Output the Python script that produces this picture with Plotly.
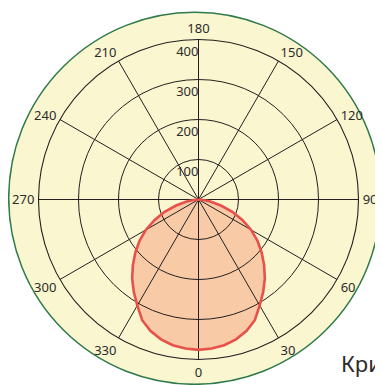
import plotly.graph_objects as go

# Luminous intensity curve
theta_deg = [270, 275, 280, 285, 290, 295, 300, 305, 310, 315, 320, 325, 330, 335, 340, 345, 350, 355,
             0, 5, 10, 15, 20, 25, 30, 35, 40, 45, 50, 55, 60, 65, 70, 75, 80, 85, 90]
intensity = [0, 12, 30, 58, 90, 121, 152, 180, 206, 232, 258, 282, 306, 333, 350, 362, 370, 374,
             376, 374, 370, 362, 350, 333, 306, 282, 258, 232, 206, 180, 152, 121, 90, 58, 30, 12, 0]

radial_ticks = [100, 200, 300, 400]
radial_labels = ["100", "200", "300", "400"]
angular_ticks = [0, 30, 60, 90, 120, 150, 180, 210, 240, 270, 300, 330]
angular_labels = [str(a) for a in angular_ticks]
caption = "Кри"

BG = "#FAF6CF"
GRID = "#231F20"
TXT = "#2B2B2B"
FONT = "Noto Sans"

W, H = 375, 377      # page has an 8px body margin
OFF = 8


def px(x):
    return (x - OFF) / W


def py(y):
    return 1 - (y - OFF) / H


fig = go.Figure()

# filled area (bottom polar layer)
fig.add_trace(go.Scatterpolar(
    r=intensity, theta=theta_deg, mode="lines", fill="toself",
    fillcolor="#F8CBA6", line=dict(width=0, color="#F8CBA6"),
    subplot="polar", showlegend=False, hoverinfo="skip"))

# outline (top polar layer, above grid)
fig.add_trace(go.Scatterpolar(
    r=intensity, theta=theta_deg, mode="lines",
    line=dict(width=2.6, color="#E8504A"),
    subplot="polar2", showlegend=False))

# radial tick labels placed just inside each circle along the 180° spoke
label_offset = 32
fig.add_trace(go.Scatterpolar(
    r=[v - label_offset for v in radial_ticks], theta=[180] * len(radial_ticks),
    mode="text", text=radial_labels, textposition="middle left",
    textfont=dict(family=FONT, size=13, color=TXT),
    subplot="polar2", showlegend=False, hoverinfo="skip"))

cx, cy, rad = 198.5, 199.5, 160
dom_x = [px(cx - rad), px(cx + rad)]
dom_y = [py(cy + rad), py(cy - rad)]

common_ang = dict(rotation=270, direction="counterclockwise",
                  tickmode="array", tickvals=angular_ticks, ticktext=angular_labels)

fig.update_layout(
    width=W, height=H,
    margin=dict(l=0, r=0, t=0, b=0),
    paper_bgcolor="white",
    font=dict(family=FONT, size=13, color=TXT),
    polar=dict(
        domain=dict(x=dom_x, y=dom_y),
        bgcolor="rgba(0,0,0,0)",
        radialaxis=dict(range=[0, 400], showgrid=False, showline=False,
                        showticklabels=False, ticks=""),
        angularaxis=dict(showgrid=False, showline=False, showticklabels=False,
                         ticks="", **common_ang),
    ),
    polar2=dict(
        domain=dict(x=dom_x, y=dom_y),
        bgcolor="rgba(0,0,0,0)",
        radialaxis=dict(range=[0, 400], tickmode="array", tickvals=radial_ticks,
                        showgrid=True, gridcolor=GRID, gridwidth=1.1,
                        showline=False, showticklabels=False, ticks=""),
        angularaxis=dict(showgrid=True, gridcolor=GRID, gridwidth=1.1,
                         showline=True, linecolor=GRID, linewidth=1.1,
                         ticks="outside", ticklen=1, tickcolor="rgba(0,0,0,0)",
                         tickfont=dict(family=FONT, size=13, color=TXT),
                         **common_ang),
    ),
    shapes=[dict(type="circle", xref="paper", yref="paper", layer="below",
                 x0=px(8.7), x1=px(380.7),
                 y0=py(384.3), y1=py(12.3),
                 fillcolor=BG, line=dict(color="#2F7A4A", width=1.5))],
    annotations=[dict(text=caption, xref="paper", yref="paper",
                      x=px(339), y=py(363), xanchor="left", yanchor="middle",
                      showarrow=False, font=dict(family=FONT, size=22, color=TXT))],
)

fig.write_html("out.html")
